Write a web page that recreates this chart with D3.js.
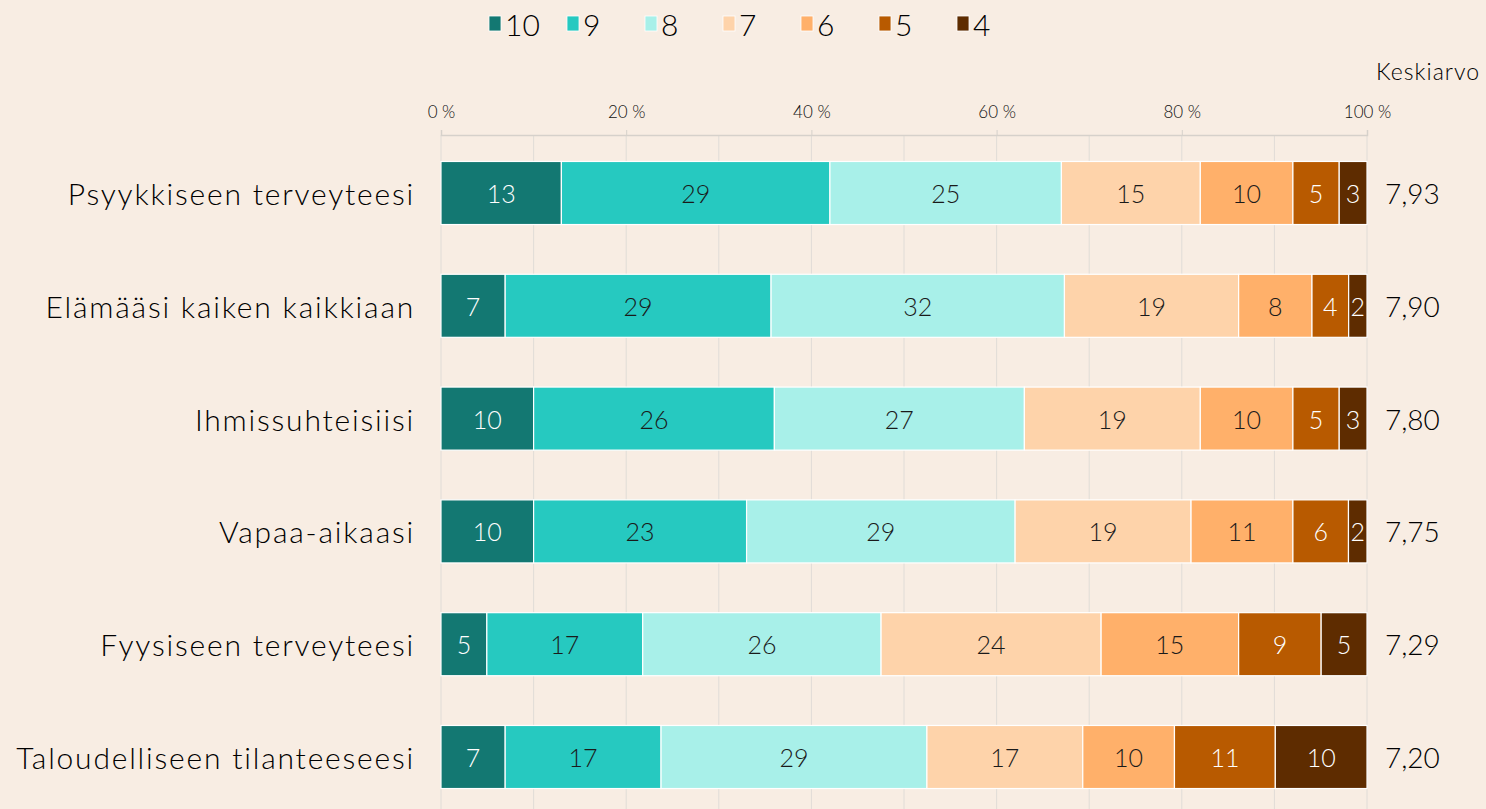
<!DOCTYPE html>
<html>
<head>
<meta charset="utf-8">
<script src="https://cdn.jsdelivr.net/npm/d3@7"></script>
<style>
  html, body { margin: 0; padding: 0; background: #f8ede3; }
  svg { display: block; font-family: "Lato", "DejaVu Sans", sans-serif; }
</style>
</head>
<body>
<svg id="chart" width="1486" height="809"></svg>
<script>
// Arvosanat (10 … 4) ja niiden osuudet (%) kullekin osa-alueelle
const categories = [
  "Psyykkiseen terveyteesi",
  "Elämääsi kaiken kaikkiaan",
  "Ihmissuhteisiisi",
  "Vapaa-aikaasi",
  "Fyysiseen terveyteesi",
  "Taloudelliseen tilanteeseesi"
];
const grades = ["10", "9", "8", "7", "6", "5", "4"];
const v10 = [13, 7, 10, 10, 5, 7];
const v9  = [29, 29, 26, 23, 17, 17];
const v8  = [25, 32, 27, 29, 26, 29];
const v7  = [15, 19, 19, 19, 24, 17];
const v6  = [10, 8, 10, 11, 15, 10];
const v5  = [5, 4, 5, 6, 9, 11];
const v4  = [3, 2, 3, 2, 5, 10];
const means = ["7,93", "7,90", "7,80", "7,75", "7,29", "7,20"];
const tickLabels = ["0 %", "20 %", "40 %", "60 %", "80 %", "100 %"];

const colors = ["#137872", "#26c9c0", "#a8f0e9", "#fed3aa", "#ffb06a", "#b85a00", "#5e2c00"];
const labelColors = ["#ffffff", "#1a1a1a", "#1a1a1a", "#1a1a1a", "#1a1a1a", "#ffffff", "#ffffff"];

const series = [v10, v9, v8, v7, v6, v5, v4];
const rows = categories.map((c, i) => {
  const r = { category: c };
  grades.forEach((g, k) => { r[g] = series[k][i]; });
  return r;
});

const stack = d3.stack().keys(grades).offset(d3.stackOffsetExpand);
const layers = stack(rows);

const svg = d3.select("#chart");
const left = 441, right = 1367;
const x = d3.scaleLinear().domain([0, 1]).range([left, right]);
const y = d3.scaleBand()
  .domain(categories)
  .range([136.6, 813.4])
  .paddingInner(0.441)
  .paddingOuter(0.2205);

const textFont = "Lato, 'DejaVu Sans', sans-serif";

// Pystysuorat apuviivat 10 %:n välein
const axisY = 135;
svg.append("g")
  .selectAll("line")
  .data(d3.range(0, 1.0001, 0.1))
  .join("line")
  .attr("x1", d => x(d)).attr("x2", d => x(d))
  .attr("y1", axisY).attr("y2", 809)
  .attr("stroke", "#e0dcd7")
  .attr("stroke-width", 1);

// Yläakseli
const axis = d3.axisTop(x)
  .tickValues(d3.range(0, 1.0001, 0.2))
  .tickFormat((d, i) => tickLabels[i])
  .tickSize(5)
  .tickPadding(12);
const gAxis = svg.append("g").attr("transform", `translate(0,${axisY})`).call(axis);
gAxis.select(".domain").attr("stroke", "#d6d1cb").attr("stroke-width", 1.5);
gAxis.selectAll(".tick line").attr("stroke", "#d6d1cb");
gAxis.selectAll(".tick text")
  .attr("fill", "#111")
  .style("font-size", "17px")
  .style("font-weight", 300)
  .style("font-family", textFont);

// Pinotut palkit
const gBars = svg.append("g");
layers.forEach((layer, k) => {
  const g = gBars.append("g");
  g.selectAll("rect")
    .data(layer)
    .join("rect")
    .attr("x", d => x(d[0]))
    .attr("y", d => y(d.data.category))
    .attr("width", d => x(d[1]) - x(d[0]))
    .attr("height", y.bandwidth())
    .attr("fill", colors[k])
    .attr("stroke", "#ffffff")
    .attr("stroke-width", 1.2);
  g.selectAll("text")
    .data(layer)
    .join("text")
    .attr("x", d => (x(d[0]) + x(d[1])) / 2)
    .attr("y", d => y(d.data.category) + y.bandwidth() / 2)
    .attr("text-anchor", "middle")
    .attr("dominant-baseline", "central")
    .attr("fill", labelColors[k])
    .style("font-size", "25px")
    .style("font-weight", 300)
    .text(d => d.data[layer.key]);
});

// Luokkien nimet
svg.append("g")
  .selectAll("text")
  .data(categories)
  .join("text")
  .attr("x", 415)
  .attr("y", d => y(d) + y.bandwidth() / 2)
  .attr("text-anchor", "end")
  .attr("dominant-baseline", "central")
  .attr("fill", "#000")
  .style("font-size", "30px")
  .style("font-weight", 300)
  .style("letter-spacing", "1.8px")
  .text(d => d);

// Keskiarvot
svg.append("g")
  .selectAll("text")
  .data(means)
  .join("text")
  .attr("x", 1385)
  .attr("y", (d, i) => y(categories[i]) + y.bandwidth() / 2)
  .attr("dominant-baseline", "central")
  .attr("fill", "#000")
  .style("font-size", "28px")
  .style("font-weight", 300)
  .text(d => d);

svg.append("text")
  .attr("x", 1480)
  .attr("y", 71)
  .attr("text-anchor", "end")
  .attr("dominant-baseline", "central")
  .attr("fill", "#000")
  .style("font-size", "23px")
  .style("font-weight", 300)
  .style("letter-spacing", "1px")
  .text("Keskiarvo");

// Selite
const legendX = d3.scalePoint().domain(grades).range([489, 957]);
const legend = svg.append("g")
  .selectAll("g")
  .data(grades)
  .join("g")
  .attr("transform", d => `translate(${legendX(d)},0)`);
legend.append("rect")
  .attr("x", 0).attr("y", 16)
  .attr("width", 12).attr("height", 15)
  .attr("fill", (d, i) => colors[i])
  .attr("stroke", "#ffffff")
  .attr("stroke-width", 0.8);
legend.append("text")
  .attr("x", 16)
  .attr("y", 24)
  .attr("dominant-baseline", "central")
  .attr("fill", "#000")
  .style("font-size", "30px")
  .style("font-weight", 300)
  .text(d => d);
</script>
</body>
</html>
